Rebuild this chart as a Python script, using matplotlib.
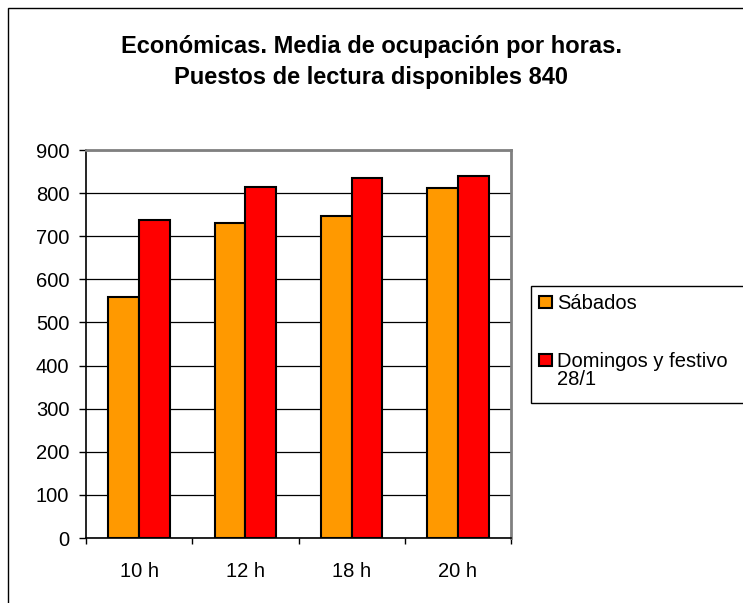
import numpy as np
import matplotlib.pyplot as plt
from matplotlib.patches import Rectangle

plt.rcParams['font.family'] = ['Liberation Sans', 'DejaVu Sans']

horas = ['10 h', '12 h', '18 h', '20 h']
sabados = [560, 730, 746, 812]
domingos = [738, 815, 835, 840]
series_names = ['Sábados', 'Domingos y festivo\n28/1']
series_colors = ['#FF9900', '#FF0000']
titulo = 'Económicas. Media de ocupación por horas.\nPuestos de lectura disponibles 840'

W, H = 743, 603
FS = 14.5
fig = plt.figure(figsize=(W / 100, H / 100), dpi=100)

# marco exterior del grafico
fig.patches.append(Rectangle((8 / W, -0.1), 1.2, 1 - 8 / H + 0.1, transform=fig.transFigure,
                             fill=False, edgecolor='black', linewidth=1.0))

ax = fig.add_axes([86 / W, 1 - 538 / H, (511 - 86) / W, (538 - 150) / H])

x = np.arange(len(horas))
bw = 0.29
ax.bar(x - bw / 2, sabados, bw, color=series_colors[0], edgecolor='black', linewidth=1.5,
       zorder=3)
ax.bar(x + bw / 2, domingos, bw, color=series_colors[1], edgecolor='black', linewidth=1.5,
       zorder=3)

ax.set_xlim(-0.5, len(horas) - 0.5)
ax.set_ylim(0, 900)
ax.set_yticks(range(0, 901, 100))
ax.yaxis.grid(True, color='black', linewidth=0.9, zorder=0)

ax.set_xticks(x)
ax.set_xticklabels(horas, fontsize=FS)
ax.set_xticks(np.arange(-0.5, len(horas), 1), minor=True)
ax.tick_params(axis='x', which='major', length=0, pad=17)
ax.tick_params(axis='x', which='minor', length=4, direction='out', width=1)
ax.tick_params(axis='y', labelsize=FS, length=5, width=1, direction='out', pad=7)

for s in ['top', 'right']:
    ax.spines[s].set_color('#808080')
    ax.spines[s].set_linewidth(2)
for s in ['left', 'bottom']:
    ax.spines[s].set_color('black')
    ax.spines[s].set_linewidth(1.2)

fig.text(0.5, 1 - 62 / H, titulo, ha='center', va='center', fontsize=17,
         fontweight='bold', linespacing=1.4)

# leyenda al estilo Excel (caja a la derecha, cortada por el borde)
fig.patches.append(Rectangle((531 / W, 1 - 403 / H), 0.5, (403 - 286) / H,
                             transform=fig.transFigure, facecolor='white',
                             edgecolor='black', linewidth=1.0))
entry_y = [302, 360]
sq = 12.5
line_gap = 18
for name, color, yc in zip(series_names, series_colors, entry_y):
    fig.patches.append(Rectangle((539 / W, 1 - (yc + sq / 2) / H), sq / W, sq / H,
                                 transform=fig.transFigure, facecolor=color,
                                 edgecolor='black', linewidth=1.5))
    # va='baseline' alinea la ultima linea; se desplaza segun el numero de lineas
    nlines = name.count('\n')
    fig.text(557 / W, 1 - (yc + 7 + nlines * line_gap) / H, name, ha='left',
             va='baseline', fontsize=FS, linespacing=0.95)

fig.savefig('out.png', dpi=100)
